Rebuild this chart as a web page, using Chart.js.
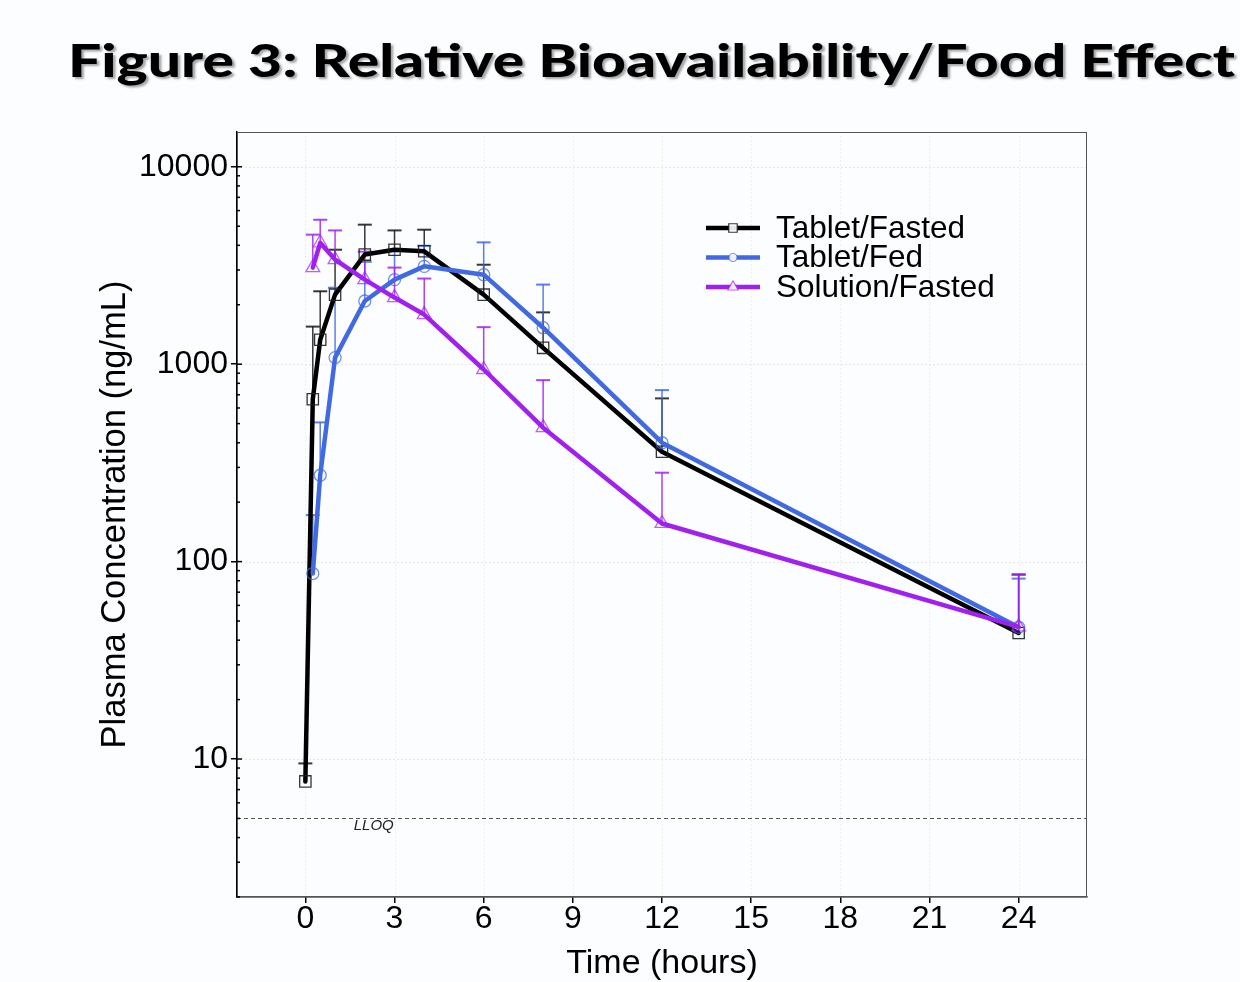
<!DOCTYPE html>
<html>
<head>
<meta charset="utf-8">
<script src="https://cdn.jsdelivr.net/npm/chart.js@4.4.1/dist/chart.umd.min.js"></script>
<style>
  html, body { margin: 0; padding: 0; background: #fbfdff; }
  #wrap { position: relative; width: 1240px; height: 982px; overflow: hidden; }
  #title {
    position: absolute; left: 68px; top: 37px; margin: 0;
    font-family: Lato, "Open Sans", sans-serif; font-weight: 900; font-size: 46px;
    line-height: 1; white-space: nowrap; color: #000;
    text-shadow: 2px 2px 2px rgba(0,0,0,0.35);
    transform-origin: left top;
  }
  canvas { position: absolute; left: 0; top: 0; }
</style>
</head>
<body>
<div id="wrap">
  <div id="title"><span id="titleText">Figure 3: Relative Bioavailability/Food Effect</span></div>
  <canvas id="c" width="1240" height="982"></canvas>
</div>
<script>
// ---- Data ----
const seriesNames = ['Tablet/Fasted', 'Tablet/Fed', 'Solution/Fasted'];

const fastedTimes = [0, 0.25, 0.5, 1, 2, 3, 4, 6, 8, 12, 24];
const fastedMean  = [7.7, 664, 1330, 2250, 3590, 3800, 3730, 2250, 1210, 360, 43.5];
const fastedUpper = [9.5, 1550, 2340, 3800, 5090, 4760, 4800, 3190, 1830, 671, 86];

const fedTimes = [0.25, 0.5, 1, 2, 3, 4, 6, 8, 12, 24];
const fedMean  = [87, 274, 1080, 2090, 2680, 3130, 2840, 1530, 400, 46.5];
const fedUpper = [172, 507, 2440, 3300, 3800, 3980, 4140, 2530, 739, 82];

const solTimes = [0.25, 0.5, 1, 2, 3, 4, 6, 8, 12, 24];
const solMean  = [3085, 4120, 3385, 2680, 2175, 1784, 940, 477, 156, 46.7];
const solUpper = [4530, 5390, 4760, 3715, 3085, 2715, 1540, 830, 282, 86];

const xTicks = [0, 3, 6, 9, 12, 15, 18, 21, 24];
const yTicks = [10, 100, 1000, 10000];
const yTickLabels = ['10', '100', '1000', '10000'];
const lloqValue = 5;
const lloqLabel = 'LLOQ';

// ---- Styles ----
const colors = ['#000000', '#4169E1', '#A020F0'];
const markerColors = ['rgba(30,30,30,0.9)', 'rgba(65,105,225,0.75)', 'rgba(160,32,240,0.7)'];
const errColors = ['rgba(20,20,20,0.85)', 'rgba(65,105,225,0.85)', 'rgba(160,32,240,0.85)'];
const pointStyles = ['rect', 'circle', 'triangle'];
const pointRadii = [8, 6, 8];
const FONT = '"Liberation Sans", Arial, sans-serif';

// title fit
(function () {
  const span = document.getElementById('titleText');
  const w = span.getBoundingClientRect().width;
  if (w > 0) document.getElementById('title').style.transform = 'scaleX(' + (1167 / w) + ')';
})();

function pts(times, vals) { return times.map((t, i) => ({ x: t, y: vals[i] })); }
const uppers = [pts(fastedTimes, fastedUpper), pts(fedTimes, fedUpper), pts(solTimes, solUpper)];
const means = [pts(fastedTimes, fastedMean), pts(fedTimes, fedMean), pts(solTimes, solMean)];

const datasets = means.map((d, i) => ({
  label: seriesNames[i],
  data: d,
  borderColor: colors[i],
  backgroundColor: colors[i],
  borderWidth: 4.5,
  borderJoinStyle: 'round',
  borderCapStyle: 'round',
  tension: 0,
  pointStyle: pointStyles[i],
  pointRadius: pointRadii[i],
  pointBorderWidth: 1.3,
  pointBorderColor: markerColors[i],
  pointBackgroundColor: 'rgba(0,0,0,0)',
  order: 2 - i
}));

const decorPlugin = {
  id: 'decor',
  beforeDatasetsDraw(chart) {
    const { ctx, chartArea: a, scales: { x, y } } = chart;
    ctx.save();
    // faint dotted grid
    ctx.strokeStyle = 'rgba(0,0,0,0.09)';
    ctx.lineWidth = 1;
    ctx.setLineDash([2, 2]);
    yTicks.forEach(v => {
      const py = Math.round(y.getPixelForValue(v)) + 0.5;
      ctx.beginPath(); ctx.moveTo(a.left, py); ctx.lineTo(a.right, py); ctx.stroke();
    });
    ctx.strokeStyle = 'rgba(0,0,0,0.05)';
    xTicks.forEach(v => {
      const px = Math.round(x.getPixelForValue(v)) + 0.5;
      ctx.beginPath(); ctx.moveTo(px, a.top); ctx.lineTo(px, a.bottom); ctx.stroke();
    });
    // LLOQ
    ctx.strokeStyle = '#555';
    ctx.setLineDash([4, 3]);
    const ly = Math.round(y.getPixelForValue(lloqValue)) + 0.5;
    ctx.beginPath(); ctx.moveTo(a.left, ly); ctx.lineTo(a.right, ly); ctx.stroke();
    ctx.setLineDash([]);
    ctx.fillStyle = '#222';
    ctx.font = 'italic 15px ' + FONT;
    ctx.textAlign = 'center';
    ctx.textBaseline = 'middle';
    ctx.fillText(lloqLabel, x.getPixelForValue(2.3), ly + 7);
    // error bars (upper only)
    ctx.save();
    ctx.beginPath(); ctx.rect(a.left, a.top, a.right - a.left, a.bottom - a.top); ctx.clip();
    uppers.forEach((arr, si) => {
      ctx.strokeStyle = errColors[si];
      arr.forEach((p, i) => {
        const px = x.getPixelForValue(p.x);
        const py0 = y.getPixelForValue(means[si][i].y);
        const py1 = y.getPixelForValue(p.y);
        ctx.lineWidth = 1.5;
        ctx.beginPath(); ctx.moveTo(px, py0); ctx.lineTo(px, py1); ctx.stroke();
        ctx.lineWidth = 2;
        ctx.beginPath(); ctx.moveTo(px - 7, py1); ctx.lineTo(px + 7, py1); ctx.stroke();
      });
    });
    ctx.restore();
    ctx.restore();
  },
  afterDraw(chart) {
    const { ctx, chartArea: a, scales: { y } } = chart;
    ctx.save();
    // plot frame
    ctx.strokeStyle = '#555';
    ctx.lineWidth = 1;
    ctx.strokeRect(a.left + 0.5, a.top + 0.5, a.right - a.left - 1, a.bottom - a.top - 1);
    // y minor ticks (inward)
    ctx.strokeStyle = '#000';
    ctx.lineWidth = 1.5;
    for (let d = 1; d <= 10000; d *= 10) {
      for (let m = 1; m <= 9; m++) {
        const v = d * m;
        if (v < y.min || v > y.max) continue;
        const py = y.getPixelForValue(v);
        const len = m === 1 ? 5 : 3;
        ctx.beginPath(); ctx.moveTo(a.left, py); ctx.lineTo(a.left + len, py); ctx.stroke();
      }
    }
    // legend
    const lx0 = 706, lx1 = 760, ly0 = 228, dy = 29.5;
    ctx.font = '31.5px ' + FONT;
    ctx.textAlign = 'left';
    ctx.textBaseline = 'middle';
    seriesNames.forEach((name, i) => {
      const yy = ly0 + i * dy;
      ctx.strokeStyle = colors[i];
      ctx.lineWidth = 4.5;
      ctx.beginPath(); ctx.moveTo(lx0, yy); ctx.lineTo(lx1, yy); ctx.stroke();
      ctx.save();
      ctx.strokeStyle = markerColors[i];
      ctx.fillStyle = 'rgba(255,255,255,0.9)';
      ctx.lineWidth = 1.2;
      Chart.helpers.drawPoint(ctx, { pointStyle: pointStyles[i], radius: pointRadii[i] - 2, borderWidth: 1.2, rotation: 0 }, (lx0 + lx1) / 2, yy);
      ctx.restore();
      ctx.fillStyle = '#000';
      ctx.fillText(name, 776, yy + 1);
    });
    ctx.restore();
  }
};

new Chart(document.getElementById('c'), {
  type: 'line',
  data: { datasets },
  options: {
    responsive: false,
    animation: false,
    devicePixelRatio: 1,
    layout: { padding: { top: 132, right: 153, left: 0, bottom: 0 } },
    plugins: { legend: { display: false }, tooltip: { enabled: false }, title: { display: false } },
    scales: {
      x: {
        type: 'linear', min: -2.3, max: 26.3,
        afterBuildTicks: s => { s.ticks = xTicks.map(v => ({ value: v })); },
        afterFit: s => { s.height = 85; },
        ticks: { font: { family: FONT, size: 32 }, color: '#000', padding: -3, maxRotation: 0, autoSkip: false },
        grid: { drawOnChartArea: false, drawTicks: true, tickLength: 6, tickColor: '#000', lineWidth: 1.5 },
        border: { color: '#000', width: 1.5 },
        title: { display: true, text: 'Time (hours)', font: { family: FONT, size: 34 }, color: '#000', padding: { top: 0, bottom: -2 } }
      },
      y: {
        type: 'logarithmic', min: 2, max: 15000,
        afterBuildTicks: s => { s.ticks = yTicks.map(v => ({ value: v })); },
        afterFit: s => { s.width = 237; },
        ticks: {
          font: { family: FONT, size: 32 }, color: '#000', padding: 3, autoSkip: false,
          callback: (v) => { const k = yTicks.indexOf(v); return k >= 0 ? yTickLabels[k] : ''; }
        },
        grid: { drawOnChartArea: false, drawTicks: true, tickLength: 6, tickColor: '#000', lineWidth: 1.5 },
        border: { color: '#000', width: 1.5 },
        title: { display: true, text: 'Plasma Concentration (ng/mL)', font: { family: FONT, size: 34.5 }, color: '#000', padding: { top: 95, bottom: 0 } }
      }
    }
  },
  plugins: [decorPlugin]
});
</script>
</body>
</html>
